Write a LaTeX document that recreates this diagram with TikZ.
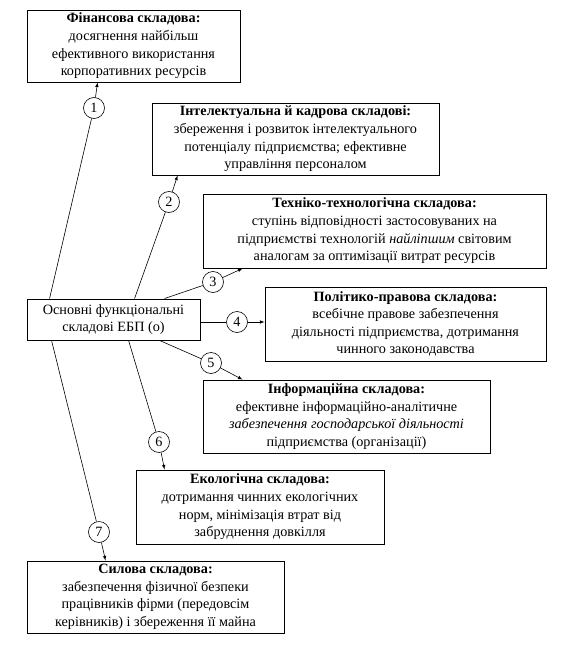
\documentclass[tikz,border=0pt]{standalone}
\usepackage{fontspec}
\setmainfont{Liberation Serif}
\usepackage{tikz}
\usetikzlibrary{arrows, calc, positioning}

\begin{document}
\begin{tikzpicture}[x=1pt, y=-1pt, >=latex, align=center,
  font=\fontsize{14.2}{17.6}\selectfont,
  box/.style={draw, line width=0.9pt, inner sep=2pt},
  num/.style={draw, circle, line width=0.6pt, inner sep=0pt, minimum size=21pt}]
  \useasboundingbox (0,0) rectangle (577,650);

  \node[box, minimum width=213pt, minimum height=72pt] (fin) at (133.5,46)
    {\textbf{Фінансова складова:}\\досягнення найбільш\\ефективного використання\\корпоративних ресурсів};
  \node[box, minimum width=287pt, minimum height=72pt] (intel) at (295.5,139)
    {\textbf{Інтелектуальна й кадрова складові:}\\збереження і розвиток інтелектуального\\потенціалу підприємства; ефективне\\управління персоналом};
  \node[box, minimum width=343pt, minimum height=74pt] (tech) at (374.5,231)
    {\textbf{Техніко-технологічна складова:}\\ступінь відповідності застосовуваних на\\підприємстві технологій \textit{найліпшим} світовим\\аналогам за оптимізації витрат ресурсів};
  \node[box, minimum width=173pt, minimum height=41pt] (main) at (113.5,319.5)
    {Основні функціональні\\складові ЕБП (о)};
  \node[box, minimum width=281pt, minimum height=74pt] (pol) at (405.5,324)
    {\textbf{Політико-правова складова:}\\всебічне правове забезпечення\\діяльності підприємства, дотримання\\чинного законодавства};
  \node[box, minimum width=287pt, minimum height=73pt] (info) at (346.5,416.5)
    {\textbf{Інформаційна складова:}\\ефективне інформаційно-аналітичне\\\textit{забезпечення господарської діяльності}\\підприємства (організації)};
  \node[box, minimum width=248pt, minimum height=74pt] (eco) at (260,507)
    {\textbf{Екологічна складова:}\\дотримання чинних екологічних\\норм, мінімізація втрат від\\забруднення довкілля};
  \node[box, minimum width=257pt, minimum height=72pt] (sil) at (155.5,597)
    {\textbf{Силова складова:}\\забезпечення фізичної безпеки\\працівників фірми (передовсім\\керівників) і збереження її майна};

  \node[num] (n1) at (94,108) {1};
  \node[num] (n2) at (169,202) {2};
  \node[num] (n3) at (213,282) {3};
  \node[num] (n4) at (237,322) {4};
  \node[num] (n5) at (211,363) {5};
  \node[num] (n6) at (159,442) {6};
  \node[num] (n7) at (99,532) {7};

  \begin{scope}[line width=0.6pt]
    \draw ([xshift=23pt]main.north west) -- (n1);
    \draw[->] (n1) -- ([xshift=71pt]fin.south west);
    \draw ([xshift=108pt]main.north west) -- (n2);
    \draw[->] (n2) -- ([xshift=26pt]intel.south west);
    \draw ([xshift=138pt]main.north west) -- (n3);
    \draw[->] (n3) -- ([xshift=40pt]tech.south west);
    \draw (main.east |- n4) -- (n4);
    \draw[->] (n4) -- (n4 -| pol.west);
    \draw ([xshift=133pt]main.south west) -- (n5);
    \draw[->] (n5) -- ([xshift=40pt]info.north west);
    \draw ([xshift=102pt]main.south west) -- (n6);
    \draw[->] (n6) -- ([xshift=29pt]eco.north west);
    \draw ([xshift=25pt]main.south west) -- (n7);
    \draw[->] (n7) -- ([xshift=79pt]sil.north west);
  \end{scope}
\end{tikzpicture}
\end{document}
